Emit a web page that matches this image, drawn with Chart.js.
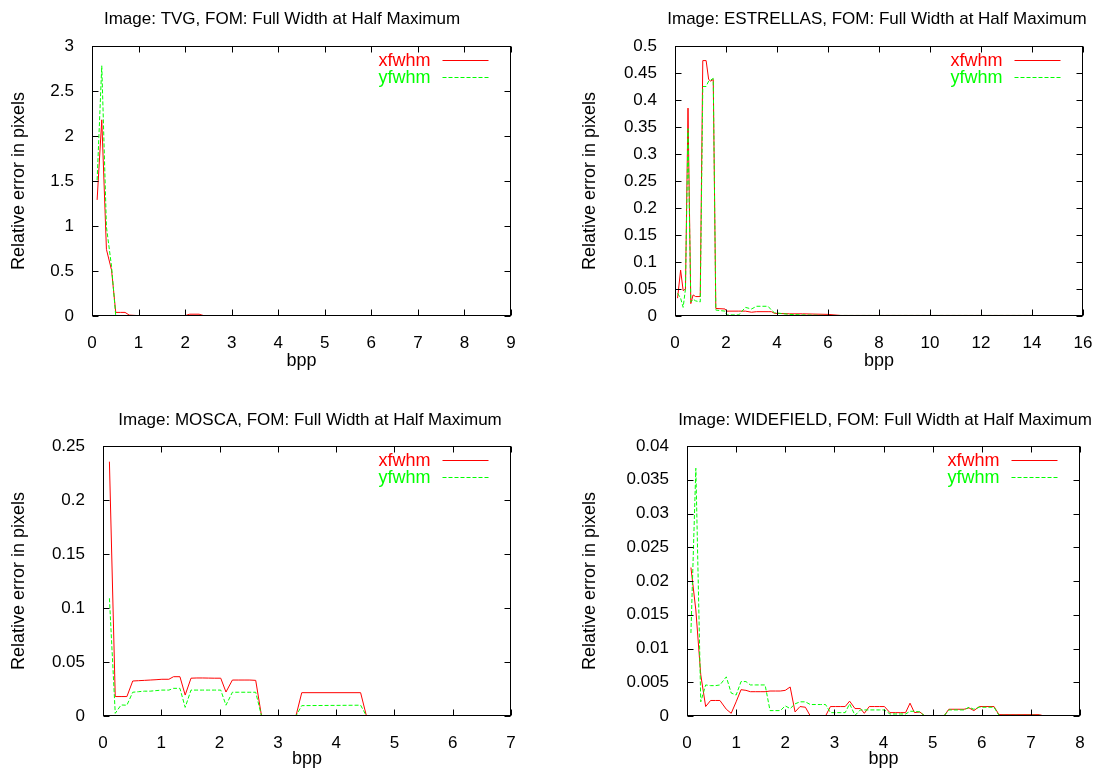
<!DOCTYPE html>
<html>
<head>
<meta charset="utf-8">
<title>FWHM relative error vs bpp</title>
<script src="https://cdn.jsdelivr.net/npm/chart.js@4.4.1/dist/chart.umd.min.js"></script>
<style>
  html, body { margin: 0; padding: 0; background: #fff; }
  #sheet { position: relative; width: 1111px; height: 776px; overflow: hidden; }
  .panel { position: absolute; width: 555px; height: 388px; }
  .panel canvas { display: block; }
</style>
</head>
<body>
<div id="sheet">
  <div class="panel" style="left:0;top:0"><canvas id="tvg" width="555" height="388"></canvas></div>
  <div class="panel" style="left:556px;top:0"><canvas id="estrellas" width="555" height="388"></canvas></div>
  <div class="panel" style="left:0;top:388px"><canvas id="mosca" width="555" height="388"></canvas></div>
  <div class="panel" style="left:556px;top:388px"><canvas id="widefield" width="555" height="388"></canvas></div>
</div>
<script>
// series names (legend)
const seriesLabels = ['xfwhm', 'yfwhm'];

// TVG
const tvgBpp = [0.11, 0.21, 0.31, 0.42, 0.51, 0.61, 0.71, 0.80, 1.0, 1.5, 2.0, 2.1, 2.3, 2.4, 3.0, 4.0, 5.0, 6.0, 7.0, 8.0, 8.67];
const tvgX   = [1.29, 2.18, 0.74, 0.51, 0.04, 0.04, 0.04, 0.01, 0.004, 0.003, 0.004, 0.02, 0.02, 0.004, 0.003, 0.003, 0.002, 0.002, 0.002, 0.002, 0.002];
const tvgY   = [1.51, 2.78, 0.99, 0.55, 0.0, 0.0, 0.0, 0.0, 0.0, 0.0, 0.0, 0.0, 0.0, 0.0, 0.0, 0.0, 0.0, 0.0, 0.0, 0.0, 0.0];
const tvgXTicks = [0, 1, 2, 3, 4, 5, 6, 7, 8, 9];
const tvgYTicks = [0, 0.5, 1, 1.5, 2, 2.5, 3];

// ESTRELLAS
const estBpp = [0.10, 0.22, 0.32, 0.41, 0.51, 0.62, 0.71, 0.81, 0.99, 1.09, 1.22, 1.32, 1.40, 1.50, 1.60, 1.96, 2.03, 2.5, 2.76, 3.0, 3.2, 3.65, 3.78, 3.9, 4.5, 5.0, 6.0, 6.5, 8, 10, 12, 14];
const estX   = [0.033, 0.085, 0.047, 0.05, 0.385, 0.023, 0.039, 0.036, 0.036, 0.473, 0.473, 0.438, 0.435, 0.438, 0.014, 0.013, 0.009, 0.009, 0.009, 0.007, 0.008, 0.008, 0.008, 0.005, 0.004, 0.004, 0.003, 0.001, 0.001, 0.001, 0.001, 0.001];
const estY   = [0.042, 0.033, 0.016, 0.05, 0.347, 0.026, 0.031, 0.028, 0.026, 0.425, 0.425, 0.435, 0.437, 0.44, 0.011, 0.009, 0.002, 0.002, 0.016, 0.013, 0.018, 0.018, 0.011, 0.006, 0.003, 0.002, 0.001, 0.001, 0.001, 0.001, 0.001, 0.001];
const estXTicks = [0, 2, 4, 6, 8, 10, 12, 14, 16];
const estYTicks = [0, 0.05, 0.1, 0.15, 0.2, 0.25, 0.3, 0.35, 0.4, 0.45, 0.5];

// MOSCA
const moscaBpp = [0.11, 0.21, 0.31, 0.41, 0.51, 0.61, 0.71, 0.81, 0.91, 1.01, 1.13, 1.21, 1.32, 1.41, 1.51, 1.61, 1.71, 1.81, 1.91, 2.02, 2.11, 2.22, 2.32, 2.42, 2.52, 2.62, 2.72, 3.31, 3.41, 4.42, 4.52, 6.21];
const moscaX   = [0.2355, 0.018, 0.018, 0.018, 0.0324, 0.0327, 0.033, 0.0333, 0.0336, 0.034, 0.034, 0.0364, 0.0364, 0.0194, 0.035, 0.0352, 0.0352, 0.0351, 0.035, 0.035, 0.0222, 0.0333, 0.0333, 0.0333, 0.0333, 0.033, 0, 0, 0.0216, 0.0216, 0, 0];
const moscaY   = [0.109, 0.0025, 0.0102, 0.010, 0.022, 0.0225, 0.023, 0.023, 0.0235, 0.024, 0.024, 0.0256, 0.0256, 0.008, 0.024, 0.024, 0.024, 0.024, 0.024, 0.024, 0.010, 0.022, 0.022, 0.022, 0.022, 0.022, 0, 0, 0.0096, 0.010, 0, 0];
const moscaXTicks = [0, 1, 2, 3, 4, 5, 6, 7];
const moscaYTicks = [0, 0.05, 0.1, 0.15, 0.2, 0.25];

// WIDEFIELD
const wideBpp = [0.08, 0.18, 0.28, 0.38, 0.48, 0.58, 0.67, 0.8, 0.9, 1.0, 1.1, 1.2, 1.29, 1.39, 1.49, 1.59, 1.69, 1.8, 1.9, 2.0,
                 2.1, 2.2, 2.3, 2.41, 2.51, 2.61, 2.72, 2.82, 2.92, 3.02, 3.12, 3.22, 3.31, 3.42, 3.53, 3.61, 3.71, 3.82, 3.92, 4.02,
                 4.13, 4.24, 4.35, 4.45, 4.54, 4.63, 4.74, 4.84, 5.23, 5.33, 5.64, 5.74, 5.84, 5.95, 6.25, 6.35, 7.17, 7.27, 7.75];
const wideX   = [0.022, 0.0157, 0.0061, 0.0014, 0.0023, 0.0023, 0.0023, 0.001, 0.0004, 0.0021, 0.0039, 0.0038, 0.0036, 0.0036, 0.0036, 0.0036, 0.0037, 0.0037, 0.0037, 0.0038,
                 0.0043, 0.0006, 0.0014, 0.0013, 0, 0, 0, 0, 0.0014, 0.0014, 0.0014, 0.0014, 0.0022, 0.0011, 0.0011, 0.0004, 0.0014, 0.0014, 0.0014, 0.0014,
                 0.0005, 0.0005, 0.0005, 0.0005, 0.0019, 0.0005, 0.0006, 0, 0, 0.001, 0.001, 0.0012, 0.0008, 0.0014, 0.0014, 0.0002, 0.0002, 0, 0];
const wideY   = [0.0123, 0.0367, 0.0021, 0.0046, 0.0045, 0.0045, 0.0046, 0.0058, 0.0034, 0.0031, 0.0051, 0.0051, 0.0046, 0.0046, 0.0046, 0.0046, 0.0008, 0.0008, 0.0008, 0.0015,
                 0.0011, 0.0018, 0.0021, 0.0021, 0.0017, 0.0017, 0.0017, 0.0017, 0.0005, 0.0005, 0.0005, 0.0005, 0.0018, 0.0001, 0.0009, 0.0009, 0.0009, 0.0009, 0.0009, 0.0009,
                 0.0003, 0.0003, 0.0003, 0.0003, 0.0007, 0.0007, 0.0006, 0, 0, 0.0009, 0.0009, 0.0013, 0.001, 0.0013, 0.0013, 0.0001, 0.0001, 0, 0];
const wideXTicks = [0, 1, 2, 3, 4, 5, 6, 7, 8];
const wideYTicks = [0, 0.005, 0.01, 0.015, 0.02, 0.025, 0.03, 0.035, 0.04];

const FONT = "'Liberation Sans', Arial, Helvetica, sans-serif";
const TICK_FONT = 17, LABEL_FONT = 18, TITLE_FONT = 17, KEY_FONT = 18;
const PANEL_W = 555, PANEL_H = 388;
const TICK_LEN = 6;

Chart.defaults.font.family = FONT;
Chart.defaults.font.size = TICK_FONT;
Chart.defaults.color = '#000';

// gnuplot-style frame: box, inward ticks on all four sides, key top-right, title
const gnuFrame = {
  id: 'gnuFrame',
  afterDraw(chart, args, opts) {
    const { ctx, chartArea: a, scales } = chart;
    const px = v => Math.round(v) + 0.5;
    const L = px(a.left), R = px(a.right - 1), T = px(a.top), B = px(a.bottom - 1);
    ctx.save();
    ctx.strokeStyle = '#000';
    ctx.lineWidth = 1;
    ctx.setLineDash([]);
    ctx.strokeRect(L, T, R - L, B - T);

    ctx.beginPath();
    scales.x.ticks.forEach((t, i) => {
      const x = px(scales.x.getPixelForTick(i));
      ctx.moveTo(x, B); ctx.lineTo(x, B - TICK_LEN);
      ctx.moveTo(x, T); ctx.lineTo(x, T + TICK_LEN);
    });
    scales.y.ticks.forEach((t, i) => {
      const y = px(scales.y.getPixelForTick(i));
      ctx.moveTo(L, y); ctx.lineTo(L + TICK_LEN, y);
      ctx.moveTo(R, y); ctx.lineTo(R - TICK_LEN, y);
    });
    ctx.stroke();

    // key
    ctx.font = `${KEY_FONT}px ${FONT}`;
    ctx.textAlign = 'right';
    ctx.textBaseline = 'middle';
    chart.data.datasets.forEach((ds, i) => {
      const y = px(a.top + 14 + i * 17);
      const x1 = R - 22, x0 = x1 - 46;
      ctx.strokeStyle = ds.borderColor;
      ctx.setLineDash(ds.borderDash || []);
      ctx.beginPath();
      ctx.moveTo(x0, y); ctx.lineTo(x1, y);
      ctx.stroke();
      ctx.fillStyle = ds.borderColor;
      ctx.fillText(ds.label, x0 - 12, y + 1);
    });

    // title
    ctx.font = `${TITLE_FONT}px ${FONT}`;
    ctx.fillStyle = '#000';
    ctx.textAlign = 'center';
    ctx.fillText(opts.text, opts.x, opts.y);
    ctx.restore();
  }
};

function makePanel(id, cfg) {
  const box = cfg.box;
  const half = LABEL_FONT * 1.2 / 2;
  const toPoints = ys => cfg.bpp.map((b, i) => ({ x: b, y: ys[i] }));
  return new Chart(document.getElementById(id), {
    type: 'line',
    data: {
      datasets: [
        { label: seriesLabels[0], data: toPoints(cfg.xs), borderColor: '#ff0000', borderWidth: 1, order: 1 },
        { label: seriesLabels[1], data: toPoints(cfg.ys), borderColor: '#00ff00', borderWidth: 1, borderDash: [4, 2], order: 0 }
      ]
    },
    options: {
      responsive: false,
      animation: false,
      events: [],
      elements: { point: { radius: 0 }, line: { tension: 0 } },
      layout: { padding: { left: 0, top: box.top, right: PANEL_W - box.right, bottom: 0 } },
      scales: {
        x: {
          type: 'linear',
          min: cfg.xTicks[0],
          max: cfg.xTicks[cfg.xTicks.length - 1],
          afterBuildTicks: s => { s.ticks = cfg.xTicks.map(v => ({ value: v })); },
          afterFit: s => { s.height = PANEL_H - box.bottom; },
          grid: { display: false },
          border: { display: false },
          ticks: { padding: 9.5, autoSkip: false, maxRotation: 0, callback: v => String(v) },
          title: { display: true, text: 'bpp', font: { size: LABEL_FONT }, padding: { top: 0, bottom: PANEL_H - cfg.xTitleY - half } }
        },
        y: {
          type: 'linear',
          min: cfg.yTicks[0],
          max: cfg.yTicks[cfg.yTicks.length - 1],
          afterBuildTicks: s => { s.ticks = cfg.yTicks.map(v => ({ value: v })); },
          afterFit: s => { s.width = box.left; },
          grid: { display: false },
          border: { display: false },
          ticks: { padding: 10, autoSkip: false, callback: v => String(v) },
          title: { display: true, text: 'Relative error in pixels', font: { size: LABEL_FONT }, padding: { top: cfg.yTitleX - half, bottom: 0 } }
        }
      },
      plugins: {
        legend: { display: false },
        title: { display: false },
        tooltip: { enabled: false },
        gnuFrame: { text: cfg.title, x: cfg.titleX, y: cfg.titleY }
      }
    },
    plugins: [gnuFrame]
  });
}

makePanel('tvg', {
  title: 'Image: TVG, FOM: Full Width at Half Maximum',
  bpp: tvgBpp, xs: tvgX, ys: tvgY, xTicks: tvgXTicks, yTicks: tvgYTicks,
  box: { left: 92, top: 46, right: 511, bottom: 316 },
  titleX: 282, titleY: 19, xTitleY: 361, yTitleX: 19.5
});
makePanel('estrellas', {
  title: 'Image: ESTRELLAS, FOM: Full Width at Half Maximum',
  bpp: estBpp, xs: estX, ys: estY, xTicks: estXTicks, yTicks: estYTicks,
  box: { left: 119, top: 46, right: 527, bottom: 316 },
  titleX: 321, titleY: 19, xTitleY: 361, yTitleX: 34
});
makePanel('mosca', {
  title: 'Image: MOSCA, FOM: Full Width at Half Maximum',
  bpp: moscaBpp, xs: moscaX, ys: moscaY, xTicks: moscaXTicks, yTicks: moscaYTicks,
  box: { left: 103, top: 58, right: 511, bottom: 328 },
  titleX: 310, titleY: 32, xTitleY: 371, yTitleX: 19.5
});
makePanel('widefield', {
  title: 'Image: WIDEFIELD, FOM: Full Width at Half Maximum',
  bpp: wideBpp, xs: wideX, ys: wideY, xTicks: wideXTicks, yTicks: wideYTicks,
  box: { left: 131, top: 58, right: 524, bottom: 328 },
  titleX: 329, titleY: 32, xTitleY: 371, yTitleX: 34.5
});
</script>
</body>
</html>
